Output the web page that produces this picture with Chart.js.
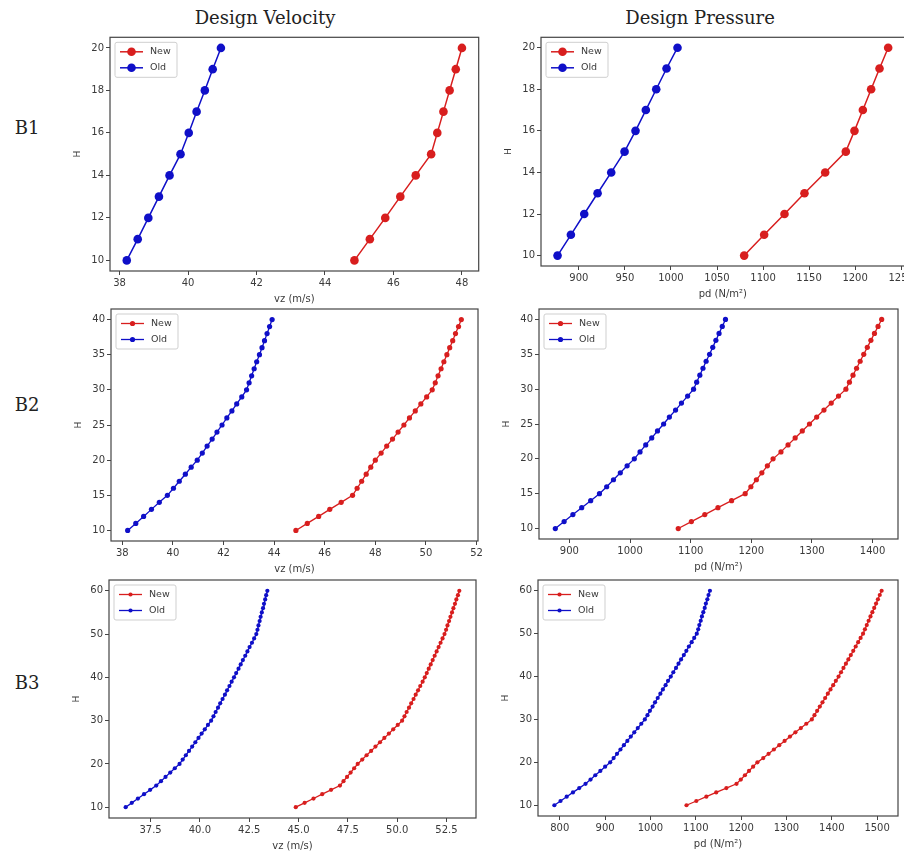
<!DOCTYPE html>
<html><head><meta charset="utf-8">
<script src="https://cdn.jsdelivr.net/npm/chart.js@4.4.1/dist/chart.umd.min.js"></script>
<style>
html,body{margin:0;padding:0;background:#fff;width:904px;height:853px;overflow:hidden;position:relative;}
canvas{position:absolute;}
.lbl{position:absolute;font-family:"DejaVu Serif",serif;color:#222;white-space:nowrap;line-height:1;transform:translate(-50%,-50%);}
</style></head><body>
<div class="lbl" style="font-size:18px;left:265px;top:18px">Design Velocity</div>
<div class="lbl" style="font-size:18px;left:700px;top:18px">Design Pressure</div>
<div class="lbl" style="font-size:18px;left:27px;top:128px">B1</div>
<div class="lbl" style="font-size:18px;left:27px;top:405px">B2</div>
<div class="lbl" style="font-size:18px;left:27px;top:683px">B3</div>
<script>
// ---------- heights ----------
const heightsB1 = [10,11,12,13,14,15,16,17,18,19,20];
const heightsB2 = [10,11,12,13,14,15,16,17,18,19,20,21,22,23,24,25,26,27,28,29,30,31,32,33,34,35,36,37,38,39,40];
const heightsB3 = [10,11,12,13,14,15,16,17,18,19,20,21,22,23,24,25,26,27,28,29,30,31,32,33,34,35,36,37,38,39,40,41,42,43,44,45,46,47,48,49,50,51,52,53,54,55,56,57,58,59,60];

// ---------- B1 ----------
const velNewB1 = [44.86,45.31,45.76,46.20,46.65,47.10,47.28,47.46,47.64,47.82,48.00];
const velOldB1 = [38.21,38.53,38.84,39.15,39.46,39.78,40.02,40.25,40.49,40.72,40.96];
const presNewB1 = [1079.5,1101.2,1123.3,1145.0,1167.5,1189.9,1199.3,1208.4,1217.4,1226.5,1235.9];
const presOldB1 = [876.8,891.3,905.8,920.3,935.1,949.6,961.5,972.7,984.0,995.2,1007.1];

// ---------- B2 ----------
const velNewB2 = [44.86,45.31,45.76,46.20,46.65,47.10,47.28,47.46,47.64,47.82,48.00,
  48.23,48.45,48.68,48.90,49.13,49.35,49.58,49.80,50.03,50.25,
  50.37,50.48,50.60,50.71,50.83,50.94,51.06,51.17,51.29,51.40];
const velOldB2 = [38.21,38.53,38.84,39.15,39.46,39.78,40.02,40.25,40.49,40.72,40.96,
  41.16,41.35,41.55,41.74,41.94,42.13,42.33,42.52,42.72,42.91,
  43.01,43.11,43.21,43.31,43.42,43.52,43.62,43.72,43.82,43.92];
const presNewB2 = [1079.5,1101.2,1123.3,1145.0,1167.5,1189.9,1199.3,1208.4,1217.4,1226.5,1235.9,
  1248.9,1260.6,1272.3,1284.1,1295.9,1307.8,1319.8,1331.8,1343.8,1356.0,
  1361.8,1367.7,1373.6,1379.5,1385.4,1391.3,1397.2,1403.1,1409.0,1415.0];
const presOldB2 = [876.8,891.3,905.8,920.3,935.1,949.6,961.5,972.7,984.0,995.2,1007.1,
  1016.5,1025.9,1035.8,1045.3,1055.4,1064.9,1075.1,1084.8,1095.0,1104.8,
  1109.9,1115.1,1120.3,1125.5,1131.2,1136.4,1141.6,1146.8,1152.1,1157.4];

// ---------- B3 ----------
const velNewB3 = [44.86,45.31,45.76,46.20,46.65,47.10,47.28,47.46,47.64,47.82,48.00,
  48.23,48.45,48.68,48.90,49.13,49.35,49.58,49.80,50.03,50.25,
  50.37,50.48,50.60,50.71,50.83,50.94,51.06,51.17,51.29,51.40,
  51.50,51.60,51.70,51.80,51.90,52.00,52.10,52.20,52.30,52.40,
  52.48,52.55,52.63,52.70,52.78,52.85,52.93,53.00,53.08,53.15];
const velOldB3 = [36.24,36.55,36.86,37.17,37.48,37.79,38.03,38.26,38.50,38.73,38.97,
  39.13,39.29,39.45,39.61,39.77,39.93,40.09,40.25,40.41,40.57,
  40.69,40.80,40.92,41.03,41.15,41.27,41.38,41.50,41.61,41.73,
  41.84,41.96,42.07,42.18,42.30,42.41,42.52,42.64,42.75,42.86,
  42.92,42.97,43.03,43.08,43.14,43.20,43.25,43.31,43.36,43.42];
const presNewB3 = [1079.5,1101.2,1123.3,1145.0,1167.5,1189.9,1199.3,1208.4,1217.4,1226.5,1235.9,
  1248.9,1260.6,1272.3,1284.1,1295.9,1307.8,1319.8,1331.8,1343.8,1356.0,
  1361.8,1367.7,1373.6,1379.5,1385.4,1391.3,1397.2,1403.1,1409.0,1415.0,
  1420.4,1425.8,1431.2,1436.6,1442.0,1447.4,1452.8,1458.2,1463.6,1469.0,
  1473.1,1477.2,1481.3,1485.4,1489.5,1493.6,1497.7,1501.8,1505.9,1510.0];
const presOldB3 = [788.0,801.6,815.2,829.0,842.9,856.8,867.8,878.3,889.4,900.0,911.2,
  918.7,926.2,933.8,941.4,949.0,956.6,964.3,972.0,979.8,987.6,
  993.4,998.8,1004.7,1010.1,1016.0,1021.9,1027.4,1033.4,1038.8,1044.8,
  1050.4,1056.4,1061.9,1067.5,1073.6,1079.2,1084.8,1090.9,1096.5,1102.2,
  1105.3,1107.8,1110.9,1113.5,1116.6,1119.7,1122.3,1125.5,1128.1,1131.2];

// ---------- tick values ----------
const ticksVelB1 = [38,40,42,44,46,48];
const ticksPresB1 = [900,950,1000,1050,1100,1150,1200,1250];
const ticksHB1 = [10,12,14,16,18,20];
const ticksVelB2 = [38,40,42,44,46,48,50,52];
const ticksPresB2 = [900,1000,1100,1200,1300,1400];
const ticksHB2 = [10,15,20,25,30,35,40];
const ticksVelB3 = [37.5,40,42.5,45,47.5,50,52.5];
const ticksPresB3 = [800,900,1000,1100,1200,1300,1400,1500];
const ticksHB3 = [10,20,30,40,50,60];

const seriesLabels = ['New','Old'];
const velTitle = 'vz (m/s)';
const presTitle = 'pd (N/m\u00B2)';
const hTitle = 'H';

// ---------- styling ----------
const RED = '#d81e1e';
const BLUE = '#0f0fc8';
const TICK_FONT = {family:'DejaVu Sans', size:10};
const TITLE_FONT = {family:'DejaVu Sans', size:10};
const TXT = '#3a3a3a';

function autoRange(a, b){
  const mn = Math.min(...a, ...b), mx = Math.max(...a, ...b);
  const m = 0.05*(mx-mn);
  return [mn-m, mx+m];
}

const frameLegend = {
  id:'frameLegend',
  afterDraw(chart, args, opts){
    const ctx = chart.ctx;
    const {left, top, right, bottom} = chart.chartArea;
    ctx.save();
    ctx.strokeStyle = '#444';
    ctx.lineWidth = 1.2;
    ctx.strokeRect(left, top, right-left, bottom-top);
    // legend box
    const x0 = left + 5, y0 = top + 5, w = 62, h = 35;
    ctx.beginPath();
    if (ctx.roundRect) ctx.roundRect(x0, y0, w, h, 2); else ctx.rect(x0, y0, w, h);
    ctx.fillStyle = 'rgba(255,255,255,0.85)';
    ctx.fill();
    ctx.strokeStyle = '#cfcfcf';
    ctx.lineWidth = 1;
    ctx.stroke();
    chart.data.datasets.forEach((ds, i) => {
      const yy = y0 + 9.5 + i*16;
      ctx.strokeStyle = ds.borderColor;
      ctx.lineWidth = ds.borderWidth;
      ctx.beginPath(); ctx.moveTo(x0+5, yy); ctx.lineTo(x0+28, yy); ctx.stroke();
      ctx.fillStyle = ds.borderColor;
      ctx.beginPath(); ctx.arc(x0+16.5, yy, opts.r, 0, Math.PI*2); ctx.fill();
      ctx.fillStyle = TXT;
      ctx.font = '9.5px "DejaVu Sans"';
      ctx.textBaseline = 'middle';
      ctx.textAlign = 'left';
      ctx.fillText(ds.label, x0+35, yy);
    });
    ctx.restore();
  }
};

function makePanel(p){
  const padT = 4, padR = 4, yW = 38, xH = 34;
  const w = Math.round(p.box.r - p.box.l) + yW + padR;
  const h = Math.round(p.box.b - p.box.t) + padT + xH;
  const cv = document.createElement('canvas');
  cv.width = w; cv.height = h;
  cv.style.width = w + 'px'; cv.style.height = h + 'px';
  cv.style.left = (p.box.l - yW) + 'px';
  cv.style.top = (p.box.t - padT) + 'px';
  document.body.appendChild(cv);
  const [xmin, xmax] = autoRange(p.newX, p.oldX);
  const [ymin, ymax] = autoRange(p.h, p.h);
  const mk = (label, vals, color) => ({
    label, data: p.h.map((hh, i) => ({x: vals[i], y: hh})),
    borderColor: color, backgroundColor: color,
    pointBackgroundColor: color, pointBorderColor: color,
    pointRadius: p.r, pointBorderWidth: 0, borderWidth: p.lw,
    tension: 0, fill: false
  });
  new Chart(cv, {
    type: 'line',
    data: {datasets: [mk(seriesLabels[0], p.newX, RED), mk(seriesLabels[1], p.oldX, BLUE)]},
    options: {
      responsive: false, animation: false, devicePixelRatio: 1, events: [],
      layout: {padding: {top: padT, right: padR, left: 0, bottom: 0}},
      plugins: {legend: {display: false}, tooltip: {enabled: false}, frameLegend: {r: p.r}},
      scales: {
        x: {
          type: 'linear', position: 'bottom', min: xmin, max: xmax,
          afterBuildTicks: s => { s.ticks = p.xTicks.map(v => ({value: v})); },
          afterFit: s => { s.height = xH; s.paddingLeft = 0; s.paddingRight = 0; },
          ticks: {autoSkip: false, maxRotation: 0, minRotation: 0, padding: 2, color: TXT, font: TICK_FONT,
                  callback: v => Number(v).toFixed(p.xDec)},
          grid: {display: true, drawOnChartArea: false, drawTicks: true, tickLength: 4, color: '#444'},
          border: {display: false},
          title: {display: true, text: p.xTitle, color: TXT, font: TITLE_FONT, padding: {top: 0, bottom: 0}}
        },
        y: {
          type: 'linear', position: 'left', min: ymin, max: ymax,
          afterBuildTicks: s => { s.ticks = p.yTicks.map(v => ({value: v})); },
          afterFit: s => { s.width = yW; s.paddingTop = 0; s.paddingBottom = 0; },
          ticks: {autoSkip: false, padding: 2, color: TXT, font: TICK_FONT, callback: v => String(v)},
          grid: {display: true, drawOnChartArea: false, drawTicks: true, tickLength: 4, color: '#444'},
          border: {display: false},
          title: {display: true, text: hTitle, color: TXT, font: {family:'DejaVu Sans', size: 9}, padding: {top: 0, bottom: 0}}
        }
      }
    },
    plugins: [frameLegend]
  });
}

makePanel({box:{l:110,t:37,r:479,b:271}, h:heightsB1, newX:velNewB1, oldX:velOldB1, xTicks:ticksVelB1, yTicks:ticksHB1, xDec:0, xTitle:velTitle, r:4.3, lw:1.5});
makePanel({box:{l:541,t:37,r:905,b:266}, h:heightsB1, newX:presNewB1, oldX:presOldB1, xTicks:ticksPresB1, yTicks:ticksHB1, xDec:0, xTitle:presTitle, r:4.3, lw:1.5});
makePanel({box:{l:111,t:309,r:478,b:541}, h:heightsB2, newX:velNewB2, oldX:velOldB2, xTicks:ticksVelB2, yTicks:ticksHB2, xDec:0, xTitle:velTitle, r:2.6, lw:1.3});
makePanel({box:{l:539,t:309,r:898,b:539}, h:heightsB2, newX:presNewB2, oldX:presOldB2, xTicks:ticksPresB2, yTicks:ticksHB2, xDec:0, xTitle:presTitle, r:2.6, lw:1.3});
makePanel({box:{l:109,t:580,r:476,b:818}, h:heightsB3, newX:velNewB3, oldX:velOldB3, xTicks:ticksVelB3, yTicks:ticksHB3, xDec:1, xTitle:velTitle, r:2.1, lw:1.3});
makePanel({box:{l:538,t:580,r:898,b:816}, h:heightsB3, newX:presNewB3, oldX:presOldB3, xTicks:ticksPresB3, yTicks:ticksHB3, xDec:0, xTitle:presTitle, r:2.1, lw:1.3});
</script>
</body></html>
